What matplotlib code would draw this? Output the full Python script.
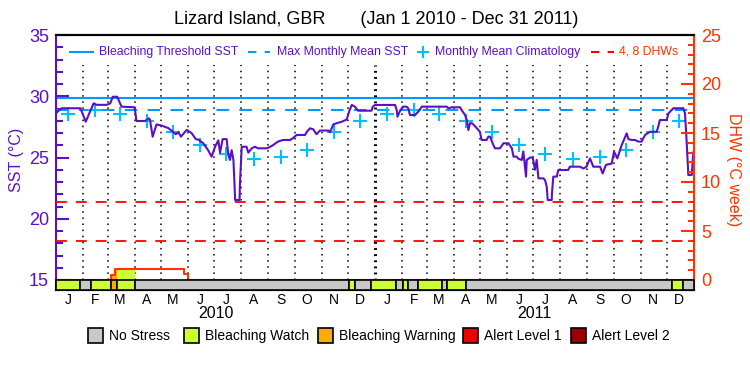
import numpy as np
import pandas as pd
import matplotlib
matplotlib.use('Agg')
import matplotlib.pyplot as plt
import matplotlib.transforms as mtransforms
from matplotlib.patches import Rectangle
from matplotlib.lines import Line2D
from matplotlib.ticker import MultipleLocator

plt.rcParams['font.family'] = ['Liberation Sans', 'DejaVu Sans']

# ---------------- data ----------------
START = pd.Timestamp('2010-01-01')

# SST (deg C), day offsets from 2010-01-01
sst_day = [0, 4.6, 6.5, 28, 34, 43, 46.5, 58, 62, 65, 70, 75, 90, 92, 102, 106, 107.5,
           110.6, 115, 121, 128.5, 132, 137, 140, 143, 149.5, 155, 160, 163, 168.5,
           174, 178, 182, 185.7, 187.7, 190.7, 195.3, 197, 199, 201, 203, 205, 210,
           210.5, 211.7, 212.5, 218, 220, 224, 227.7, 231, 241, 243, 248.6, 254,
           259.7, 267.8, 271.5, 275.4, 285, 287, 290.6, 294.4, 298, 302, 311.6,
           313.5, 317.3, 321, 327, 332.6, 335.6, 338.4, 342, 345.6, 361, 362.4,
           365, 388, 390, 390.7, 393.6, 397, 401, 403, 405, 410.8, 414.6, 418.5,
           447, 449, 452.8, 462.3, 464, 468, 470, 471.8, 473.7, 475.6, 477.5,
           481.4, 485, 487, 492.7, 494.6, 496.6, 500.4, 502.3, 508, 512, 517.7,
           521.6, 523.5, 527, 529, 533, 534.7, 537.8, 538.6, 542.4, 545.5, 548,
           550, 552, 557.6, 559.6, 561.5, 562.6, 567.2, 567.5, 569, 573, 574.7,
           586, 588, 599.6, 603.4, 607, 611, 614.8, 622.5, 625.5, 629.3, 635.8,
           638.5, 642.3, 647.3, 653, 655, 658.7, 662.5, 666.3, 670, 674, 679.7,
           687.3, 689, 691, 698.8, 700.7, 704.5, 706.4, 717.8, 719.7, 721.7,
           723.5, 727.4, 729.2, 730]
sst_val = [28.6, 28.93, 29.02, 29.02, 27.92, 29.42, 29.3, 29.3, 29.42, 29.96, 29.96,
           29.15, 29.1, 27.98, 27.98, 28.2, 28.1, 26.7, 27.7, 27.6, 27.4, 27.2, 26.9,
           27.06, 26.7, 27.25, 27.0, 26.5, 26.45, 26.16, 25.6, 25.07, 25.88, 26.4,
           25.4, 26.5, 26.5, 25.3, 24.8, 25.6, 24.8, 21.53, 21.53, 22.9, 24.6, 25.88,
           25.88, 25.4, 25.75, 25.88, 25.75, 25.75, 25.8, 26.02, 26.3, 26.43, 26.43,
           26.6, 26.84, 26.84, 27.1, 27.38, 27.3, 26.9, 27.2, 27.2, 27.06, 27.7,
           27.8, 27.92, 28.1, 28.8, 29.29, 29.15, 28.82, 28.82, 29.15, 29.29, 29.29,
           28.82, 28.33, 28.8, 29.15, 29.15, 29.02, 28.47, 28.47, 28.75, 29.15,
           29.15, 29.02, 29.1, 29.1, 28.88, 28.47, 28.06, 27.24, 27.8, 27.8, 27.7,
           27.4, 27.1, 26.43, 26.43, 26.7, 26.7, 26.02, 25.75, 25.75, 26.16, 26.16,
           25.75, 25.07, 25.07, 24.9, 24.8, 25.5, 23.44, 24.8, 25.0, 25.0, 24.0,
           24.8, 23.3, 23.3, 23.15, 22.6, 21.53, 21.53, 22.1, 23.44, 23.44, 23.98,
           23.98, 24.25, 24.25, 24.1, 24.25, 24.93, 24.25, 24.25, 23.7, 24.4, 24.5,
           25.48, 24.93, 26.02, 26.97, 26.5, 26.43, 26.43, 26.3, 26.3, 26.84, 27.1,
           27.1, 27.51, 28.06, 28.06, 28.6, 28.88, 29.02, 29.02, 28.6, 26.16,
           23.57, 23.57, 25.34, 25.6]

# Monthly mean climatology (Jan..Dec)
clim_month = ['J', 'F', 'M', 'A', 'M', 'J', 'J', 'A', 'S', 'O', 'N', 'D']
clim_val = [28.53, 28.88, 28.55, 27.98, 27.06, 26.05, 25.26, 24.88, 25.07, 25.59, 27.08, 27.95]

mmm_sst = 28.87
threshold_sst = 29.87
dhw_levels = [4, 8]

# DHW (deg C-weeks) step series
dhw_day = [0, 63, 67, 147, 151.5, 730]
dhw_val = [0, 0.5, 1.09, 0.58, 0, 0]

# Alert status segments: start day, level (0 none,1 watch,2 warning,3 alert1,4 alert2)
alert_start = [0, 27.5, 39.7, 63, 70, 90.7, 335, 342, 360.4, 389.6, 396.7, 403, 414,
               441.3, 447.7, 468.8, 704.5, 717.8]
alert_level = [1, 0, 1, 2, 1, 0, 1, 0, 1, 0, 1, 0, 1, 0, 1, 0, 1, 0]
alert_end = 730

alert_names = ['No Stress', 'Bleaching Watch', 'Bleaching Warning', 'Alert Level 1', 'Alert Level 2']
alert_colors = ['#c8c8c8', '#ccff33', '#ffaa00', '#ee0000', '#990000']

# ---------------- styling ----------------
PURPLE = '#5a10c8'
ORANGE = '#ff3300'
BLUE = '#0099ff'
CYAN = '#00bfff'
RED = '#ff0000'
W, H = 750, 375

def fx(x):
    return x / W

def fy(y):
    return 1 - y / H

fig = plt.figure(figsize=(7.5, 3.75), dpi=100)
ax = fig.add_axes([fx(56), fy(290), (694 - 56) / W, (290 - 35) / H])
ax.set_xlim(0, 730)
ax.set_ylim(15 - 10 / 12.25, 35)
ax2 = ax.twinx()
ax2.set_ylim(-10 / 9.8, 25)

# month boundary dotted lines
month_starts = pd.date_range('2010-02-01', '2011-12-01', freq='MS')
for d in month_starts:
    dd = (d - START).days
    if d.month == 1:
        ax.vlines(dd, 15, 32.55, colors='black', linestyles=(0, (0.6, 1.4)), linewidth=2.2, zorder=1)
    else:
        ax.vlines(dd, 15, 32.55, colors='black', linestyles=(0, (1, 3)), linewidth=1.1, zorder=1)

# reference lines
ax.axhline(threshold_sst, color=BLUE, lw=1.5, zorder=2)
ax.axhline(mmm_sst, color=BLUE, lw=1.5, ls=(0, (6, 5)), zorder=2)
for lv in dhw_levels:
    ax2.axhline(lv, color=RED, lw=1.3, ls=(0, (6, 5)), zorder=2)

# climatology markers at mid-month both years
mid_days = []
mid_vals = []
for yr in (2010, 2011):
    for m in range(12):
        d = pd.Timestamp(year=yr, month=m + 1, day=15)
        mid_days.append((d - START).days)
        mid_vals.append(clim_val[m])
ax.plot(mid_days, mid_vals, ls='none', marker='+', ms=10, mew=1.5, color=CYAN, zorder=3)

# SST line
ax.plot(sst_day, sst_val, color=PURPLE, lw=1.5, zorder=4)

# alert bar and DHW fill
bar_tr = mtransforms.blended_transform_factory(ax.transData, ax.transAxes)
ends = alert_start[1:] + [alert_end]
dd_arr = np.array(dhw_day, dtype=float)
dv_arr = np.array(dhw_val, dtype=float)

def dhw_at(t):
    i = np.searchsorted(dd_arr, t, side='right') - 1
    return dv_arr[max(i, 0)]

for s, e, lv in zip(alert_start, ends, alert_level):
    ax2.add_patch(Rectangle((s, 0), e - s, 10 / 255, transform=bar_tr,
                            facecolor=alert_colors[lv], edgecolor='black', lw=1.2,
                            zorder=5, clip_on=False))
    if lv > 0:
        xs = [s] + [d for d in dhw_day if s < d < e] + [e]
        ys = [dhw_at(t) for t in xs]
        ax2.fill_between(xs, 0, ys, step='post', color=alert_colors[lv], lw=0, zorder=3)

ax2.plot(dhw_day, dhw_val, drawstyle='steps-post', color=ORANGE, lw=1.5, zorder=4)

# spines
for sp in ['left', 'right', 'top', 'bottom']:
    ax.spines[sp].set_linewidth(1.5)
    ax2.spines[sp].set_linewidth(1.5)
ax.spines['left'].set_color(PURPLE)
ax.spines['right'].set_visible(False)
ax2.spines['left'].set_visible(False)
ax2.spines['right'].set_color(ORANGE)
ax.spines['top'].set_color('black')
ax.spines['bottom'].set_color('black')

# y ticks
ax.set_yticks([15, 20, 25, 30, 35])
ax.yaxis.set_minor_locator(MultipleLocator(1))
ax.tick_params(axis='y', which='major', direction='in', length=9.5, width=1.5,
               colors=PURPLE, labelsize=13, pad=5)
ax.tick_params(axis='y', which='minor', direction='in', length=5, width=1.5, colors=PURPLE)
ax2.set_yticks([0, 5, 10, 15, 20, 25])
ax2.yaxis.set_minor_locator(MultipleLocator(1))
ax2.tick_params(axis='y', which='major', direction='in', length=9.5, width=1.5,
                colors=ORANGE, labelsize=13, pad=5)
ax2.tick_params(axis='y', which='minor', direction='in', length=4.5, width=1.5, colors=ORANGE)
for t in ax.get_yticklabels():
    t.set_color(PURPLE)
for t in ax2.get_yticklabels():
    t.set_color(ORANGE)

# x ticks: month initials at mid-month
ax.set_xticks(mid_days)
ax.set_xticklabels(clim_month * 2)
ax.tick_params(axis='x', length=0, labelsize=10, pad=2)
ax.xaxis.set_minor_locator(plt.NullLocator())

year_tr = mtransforms.blended_transform_factory(ax.transData, fig.transFigure)
for yr in (2010, 2011):
    a = (pd.Timestamp(year=yr, month=1, day=1) - START).days
    b = (pd.Timestamp(year=yr + 1, month=1, day=1) - START).days
    ax.text((a + b) / 2, fy(314), str(yr), transform=year_tr,
            ha='center', va='center', fontsize=11.5)

# title
fig.text(fx(376), fy(20), 'Lizard Island, GBR       (Jan 1 2010 - Dec 31 2011)',
         ha='center', va='center', fontsize=13)

# axis labels
fig.text(fx(17), fy(160), 'SST (°C)', rotation=90, color=PURPLE, fontsize=11.5,
         ha='center', va='center')
fig.text(fx(733), fy(170), 'DHW (°C week)', rotation=270, color=ORANGE, fontsize=11.5,
         ha='center', va='center')

# top legend
ly = fy(52)
fs_leg = 8.8
fig.add_artist(Line2D([fx(70), fx(93)], [ly, ly], color=BLUE, lw=1.5))
fig.text(fx(99), ly, 'Bleaching Threshold SST', color=PURPLE, fontsize=fs_leg, va='center')
fig.add_artist(Line2D([fx(248), fx(270)], [ly, ly], color=BLUE, lw=1.5, ls=(0, (4, 4))))
fig.text(fx(277), ly, 'Max Monthly Mean SST', color=PURPLE, fontsize=fs_leg, va='center')
fig.add_artist(Line2D([fx(423)], [ly], color=CYAN, marker='+', ms=8, mew=1.5, ls='none'))
fig.text(fx(435), ly, 'Monthly Mean Climatology', color=PURPLE, fontsize=fs_leg, va='center')
fig.add_artist(Line2D([fx(591), fx(614)], [ly, ly], color=RED, lw=1.5, ls=(0, (4, 4))))
fig.text(fx(619), ly, '4, 8 DHWs', color=ORANGE, fontsize=fs_leg, va='center')

# bottom legend
box_x = [88, 184, 318, 463, 571]
for bx, name, col in zip(box_x, alert_names, alert_colors):
    fig.add_artist(Rectangle((fx(bx), fy(343)), 15 / W, 15 / H, facecolor=col,
                             edgecolor='black', lw=1.2, transform=fig.transFigure))
    fig.text(fx(bx + 21), fy(336), name, fontsize=10, va='center', ha='left')

fig.savefig('out.png', dpi=100)
